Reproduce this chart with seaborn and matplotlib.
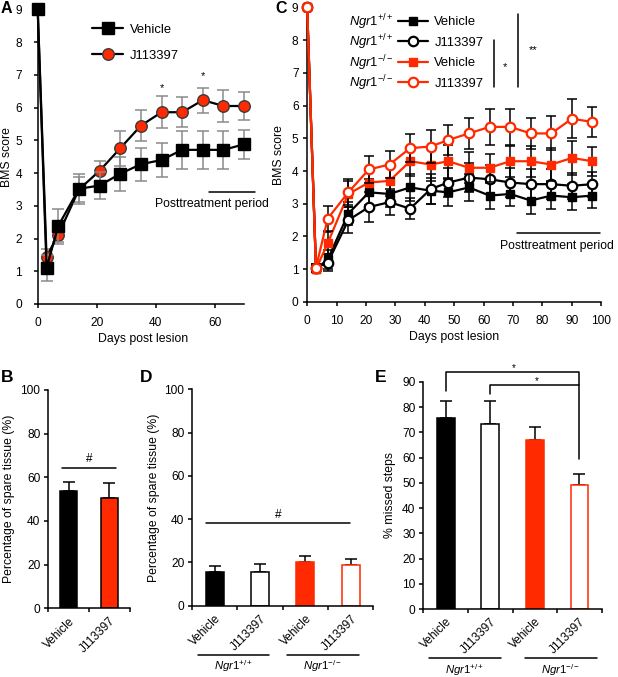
import numpy as np
import pandas as pd
import matplotlib
matplotlib.use("Agg")
import matplotlib.pyplot as plt
import seaborn as sns
from matplotlib.transforms import blended_transform_factory as btf

sns.set_style("ticks", rc={"axes.edgecolor": "black", "xtick.color": "black",
                           "ytick.color": "black", "text.color": "black",
                           "axes.labelcolor": "black"})
plt.rcParams["font.family"] = ["Liberation Sans", "DejaVu Sans"]
plt.rcParams["mathtext.fontset"] = "custom"
plt.rcParams["mathtext.rm"] = "Liberation Sans"
plt.rcParams["mathtext.it"] = "Liberation Sans:italic"
plt.rcParams["mathtext.bf"] = "Liberation Sans:bold"
plt.rcParams["axes.linewidth"] = 1.1

RED = "#FF2A00"

# ---------------- data ----------------
# Panel A
a_days = [0, 3, 7, 14, 21, 28, 35, 42, 49, 56, 63, 70]
a_vehicle = [9, 1.10, 2.39, 3.52, 3.62, 3.98, 4.27, 4.40, 4.71, 4.71, 4.71, 4.88]
a_vehicle_sem = [0, 0.39, 0.51, 0.46, 0.41, 0.52, 0.50, 0.53, 0.58, 0.58, 0.58, 0.44]
a_j113397 = [9, 1.45, 2.12, 3.50, 4.07, 4.76, 5.45, 5.86, 5.86, 6.23, 6.05, 6.05]
a_j113397_sem = [0, 0.22, 0.29, 0.38, 0.30, 0.53, 0.48, 0.49, 0.45, 0.38, 0.49, 0.44]
a_star_days = [42, 56]
a_star_y = [6.5, 6.88]

# Panel C
c_days = [0, 3, 7, 14, 21, 28, 35, 42, 48, 55, 62, 69, 76, 83, 90, 97]
c_wt_veh = [9, 1.0, 1.3, 2.7, 3.35, 3.3, 3.5, 3.4, 3.35, 3.5, 3.25, 3.3, 3.1, 3.25, 3.2, 3.25]
c_wt_veh_sem = [0, 0.1, 0.3, 0.35, 0.4, 0.4, 0.4, 0.4, 0.42, 0.42, 0.4, 0.38, 0.42, 0.42, 0.4, 0.38]
c_wt_j = [9, 1.05, 1.2, 2.5, 2.9, 3.05, 2.85, 3.45, 3.65, 3.8, 3.75, 3.65, 3.6, 3.6, 3.55, 3.6]
c_wt_j_sem = [0, 0.1, 0.25, 0.4, 0.45, 0.4, 0.33, 0.45, 0.45, 0.45, 0.45, 0.45, 0.45, 0.45, 0.4, 0.38]
c_ko_veh = [9, 1.0, 1.8, 3.3, 3.65, 3.7, 4.3, 4.2, 4.3, 4.1, 4.1, 4.3, 4.3, 4.2, 4.4, 4.3]
c_ko_veh_sem = [0, 0.1, 0.35, 0.4, 0.42, 0.45, 0.45, 0.5, 0.5, 0.47, 0.42, 0.47, 0.47, 0.49, 0.52, 0.45]
c_ko_j = [9, 1.05, 2.55, 3.35, 4.05, 4.2, 4.7, 4.75, 4.95, 5.15, 5.35, 5.35, 5.15, 5.15, 5.6, 5.5]
c_ko_j_sem = [0, 0.1, 0.38, 0.4, 0.42, 0.42, 0.43, 0.5, 0.47, 0.48, 0.55, 0.55, 0.48, 0.52, 0.6, 0.47]
c_genotypes = [r"$\it{Ngr1}^{+/+}$", r"$\it{Ngr1}^{+/+}$", r"$\it{Ngr1}^{-/-}$", r"$\it{Ngr1}^{-/-}$"]
c_treatments = ["Vehicle", "J113397", "Vehicle", "J113397"]

# Panel B
b_groups = ["Vehicle", "J113397"]
b_values = [53.5, 50.5]
b_sem = [4.5, 7.0]

# Panel D / E
de_keys = ["WT Vehicle", "WT J113397", "KO Vehicle", "KO J113397"]
de_labels = ["Vehicle", "J113397", "Vehicle", "J113397"]
d_values = [15.5, 15.5, 20.3, 18.8]
d_sem = [3.0, 3.6, 2.8, 2.8]
e_values = [75.5, 73.1, 67.0, 49.2]
e_sem = [6.8, 9.2, 5.2, 4.1]
geno_labels = [r"$\it{Ngr1}^{+/+}$", r"$\it{Ngr1}^{-/-}$"]

# ---------------- figure ----------------
fig = plt.figure(figsize=(6.18, 6.77), dpi=100)
axA = fig.add_axes([0.061, 0.551, 0.334, 0.435])
axC = fig.add_axes([0.497, 0.554, 0.476, 0.435])
axB = fig.add_axes([0.078, 0.1015, 0.132, 0.3225])
axD = fig.add_axes([0.311, 0.1053, 0.293, 0.3196])
axE = fig.add_axes([0.685, 0.1004, 0.2887, 0.3357])

TICK = 8.6


def style_axis(ax, ypad=2.5, xpad=6):
    sns.despine(ax=ax)
    ax.tick_params(axis="both", which="both", direction="out", length=3.2,
                   width=1.1, labelsize=TICK)
    ax.tick_params(axis="y", pad=ypad)
    ax.tick_params(axis="x", pad=xpad)


def series(ax, days, vals, sem, color, marker, face, edge, ms, mew, ecolor, capsize, z):
    ax.errorbar(days, vals, yerr=sem, fmt="none", ecolor=ecolor, elinewidth=1.1,
                capsize=capsize, capthick=1.1, zorder=z, clip_on=False)
    sns.lineplot(x=days, y=vals, ax=ax, color=color, errorbar=None, legend=False,
                 linewidth=1.6, zorder=z + 0.5)
    line = ax.lines[-1]
    line.set_marker(marker)
    line.set_markersize(ms)
    line.set_markerfacecolor(face)
    line.set_markeredgecolor(edge)
    line.set_markeredgewidth(mew)
    line.set_clip_on(False)
    return line


# ---- Panel A ----
hJ = series(axA, a_days, a_j113397, a_j113397_sem, "black", "o", RED, "#3a3a3a",
            8.3, 1.0, "#8a8a8a", 4.5, 2)
hV = series(axA, a_days, a_vehicle, a_vehicle_sem, "black", "s", "black", "black",
            9.0, 1.0, "#8a8a8a", 4.5, 3)
axA.set_xlim(0, 70)
axA.set_ylim(0, 9)
axA.set_xticks([0, 20, 40, 60])
axA.set_yticks(range(10))
style_axis(axA, ypad=8, xpad=6)
axA.set_xlabel("Days post lesion", fontsize=8.8)
axA.set_ylabel("BMS score", fontsize=8.8)
axA.xaxis.set_label_coords(0.51, -0.098)
axA.yaxis.set_label_coords(-0.118, 0.5)
axA.legend([hV, hJ], ["Vehicle", "J113397"], loc="upper left",
           bbox_to_anchor=(0.263, 0.951), frameon=False, fontsize=9.4,
           handlelength=2.4, handletextpad=0.5, labelspacing=1.05,
           borderpad=0, borderaxespad=0, numpoints=1)
for d, y in zip(a_star_days, a_star_y):
    axA.text(d, y, "*", ha="center", va="baseline", fontsize=8)
axA.plot([58, 73.7], [3.43, 3.43], color="black", lw=1.1, clip_on=False)
axA.text(59, 3.06, "Posttreatment period", ha="center", va="center", fontsize=8.8)

# ---- Panel C ----
h1 = series(axC, c_days, c_wt_veh, c_wt_veh_sem, "black", "s", "black", "black",
            6.3, 1.0, "black", 3.6, 2)
h2 = series(axC, c_days, c_wt_j, c_wt_j_sem, "black", "o", "white", "black",
            6.8, 1.6, "black", 3.6, 3)
h3 = series(axC, c_days, c_ko_veh, c_ko_veh_sem, RED, "s", RED, RED,
            6.3, 1.0, "black", 3.6, 4)
h4 = series(axC, c_days, c_ko_j, c_ko_j_sem, RED, "o", "white", RED,
            6.8, 1.6, "black", 3.6, 5)
axC.set_xlim(0, 100)
axC.set_ylim(0, 9)
axC.set_xticks(range(0, 101, 10))
axC.set_yticks(range(10))
style_axis(axC, ypad=3, xpad=6)
axC.set_xlabel("Days post lesion", fontsize=8.8)
axC.set_ylabel("BMS score", fontsize=8.8)
axC.xaxis.set_label_coords(0.5, -0.1)
axC.yaxis.set_label_coords(-0.076, 0.5)
legC = axC.legend([h1, h2, h3, h4], c_treatments, loc="upper left",
                  bbox_to_anchor=(0.308, 0.971), frameon=False, fontsize=9.4,
                  handlelength=2.3, handletextpad=0.5, labelspacing=0.64,
                  borderpad=0, borderaxespad=0, numpoints=1)
axC.plot([63.6, 63.6], [6.56, 8.02], color="black", lw=1.1)
axC.text(67.2, 7.1, "*", ha="center", va="baseline", fontsize=8)
axC.plot([71.8, 71.8], [6.56, 8.8], color="black", lw=1.1)
axC.text(76.7, 7.6, "**", ha="center", va="baseline", fontsize=8)
axC.plot([71.5, 99.7], [2.1, 2.1], color="black", lw=1.1, clip_on=False)
axC.text(85, 1.7, "Posttreatment period", ha="center", va="center", fontsize=8.8)


# ---- bar panels ----
def bars(ax, keys, labels, vals, sems, faces, edges):
    df = pd.DataFrame({"group": keys, "value": vals})
    sns.barplot(data=df, x="group", y="value", hue="group",
                palette=dict(zip(keys, faces)), width=0.4, legend=False,
                saturation=1, linewidth=1.1, ax=ax)
    for patch, ec in zip(ax.patches, edges):
        patch.set_edgecolor(ec)
    n = len(keys)
    ax.errorbar(np.arange(n), vals, yerr=[np.zeros(n), sems], fmt="none",
                ecolor="black", elinewidth=1.1, capsize=4, capthick=1.1, zorder=0.5)
    ax.set_xlim(-0.5, n - 0.5)
    style_axis(ax, ypad=2.5)
    ax.set_xticks(np.arange(n))
    ax.set_xticklabels(labels, rotation=45, ha="right", va="top",
                       rotation_mode="anchor", fontsize=TICK)
    ax.tick_params(axis="x", which="major", length=0, pad=5)
    ax.set_xticks(np.arange(-0.5, n), minor=True)
    ax.tick_params(axis="x", which="minor", length=3.2, width=1.1, direction="out")
    ax.set_xlabel("")


# Panel B
bars(axB, b_groups, b_groups, b_values, b_sem, ["black", RED], ["black", "black"])
axB.set_ylim(0, 100)
axB.set_yticks(range(0, 101, 20))
axB.set_ylabel("Percentage of spare tissue (%)", fontsize=8.8)
axB.yaxis.set_label_coords(-0.41, 0.5)
axB.plot([-0.17, 1.17], [64.1, 64.1], color="black", lw=1.1)
axB.text(0.5, 68.2, "#", ha="center", va="center", fontsize=8.5)

# Panel D
bars(axD, de_keys, de_labels, d_values, d_sem,
     ["black", "white", RED, "white"], ["black", "black", RED, RED])
axD.set_ylim(0, 100)
axD.set_yticks(range(0, 101, 20))
axD.set_ylabel("Percentage of spare tissue (%)", fontsize=8.8)
axD.yaxis.set_label_coords(-0.18, 0.5)
axD.plot([-0.2, 2.99], [38.4, 38.4], color="black", lw=1.1)
axD.text(1.4, 41.9, "#", ha="center", va="center", fontsize=8.5)
trD = btf(axD.transData, axD.transAxes)
for (x0, x1), g in zip([(-0.37, 1.2), (1.59, 3.18)], geno_labels):
    axD.plot([x0, x1], [-0.228, -0.228], color="black", lw=1.1, transform=trD, clip_on=False)
    axD.text((x0 + x1) / 2, -0.242, g, ha="center", va="top", fontsize=8.2, transform=trD)

# Panel E
bars(axE, de_keys, de_labels, e_values, e_sem,
     ["black", "white", RED, "white"], ["black", "black", RED, RED])
axE.set_ylim(0, 90)
axE.set_yticks(range(0, 91, 10))
axE.set_ylabel("% missed steps", fontsize=8.8)
axE.yaxis.set_label_coords(-0.153, 0.5)
axE.plot([0, 0, 3, 3], [86.3, 94.0, 94.0, 59.3], color="black", lw=1.1, clip_on=False)
axE.plot([1, 1, 3], [85.0, 88.9, 88.9], color="black", lw=1.1, clip_on=False)
axE.text(1.52, 94.3, "*", ha="center", va="baseline", fontsize=7, clip_on=False)
axE.text(2.04, 89.2, "*", ha="center", va="baseline", fontsize=7, clip_on=False)
trE = btf(axE.transData, axE.transAxes)
for (x0, x1), g in zip([(-0.37, 1.24), (1.78, 3.39)], geno_labels):
    axE.plot([x0, x1], [-0.217, -0.217], color="black", lw=1.1, transform=trE, clip_on=False)
    axE.text((x0 + x1) / 2, -0.232, g, ha="center", va="top", fontsize=8.2, transform=trE)

# ---- genotype labels next to legend C ----
fig.canvas.draw()
renderer = fig.canvas.get_renderer()
lb = legC.get_window_extent(renderer)
inv = fig.transFigure.inverted()
for t, g in zip(legC.get_texts(), c_genotypes):
    bb = t.get_window_extent(renderer)
    xf, yf = inv.transform((lb.x0 - 4, (bb.y0 + bb.y1) / 2))
    fig.text(xf, yf, g, ha="right", va="center", fontsize=9.4)

# ---- panel letters ----
for lab, x, y, fs in [("A", 6.5, 8.5, 11.5), ("C", 281, 8.5, 11.5), ("B", 7, 377, 12.5),
                      ("D", 146, 377, 12.5), ("E", 381, 377, 12.5)]:
    fig.text(x / 618, 1 - y / 677, lab, ha="center", va="center",
             fontsize=fs, fontweight="bold")

fig.savefig("out.png", dpi=100)
